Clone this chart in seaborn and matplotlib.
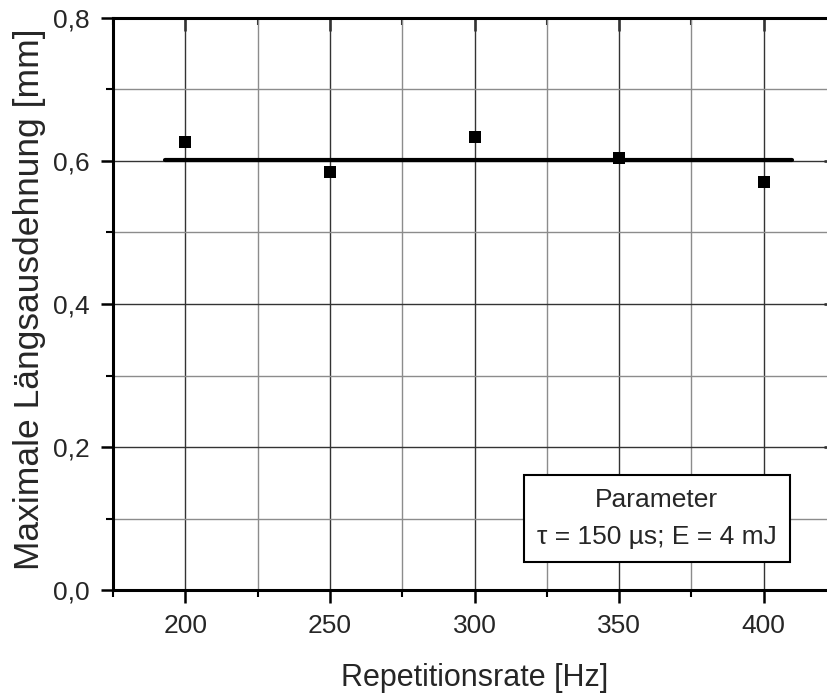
import matplotlib
matplotlib.use("Agg")
import matplotlib.pyplot as plt
from matplotlib.ticker import MultipleLocator, FuncFormatter
import seaborn as sns
import pandas as pd

# Measured maximum longitudinal extension per repetition rate
rate_hz = [200, 250, 300, 350, 400]
extension_mm = [0.626, 0.585, 0.634, 0.604, 0.571]

# Horizontal fit line (mean level)
fit_x = [193, 409.7]
fit_y = [0.602, 0.602]

x_ticks = [200, 250, 300, 350, 400]
y_ticks = [0.0, 0.2, 0.4, 0.6, 0.8]

sns.set_theme(style="white")
plt.rcParams["font.family"] = ["Liberation Sans", "DejaVu Sans"]

fig = plt.figure(figsize=(8.27, 6.95), dpi=100)
ax = fig.add_axes([113 / 827, 105 / 695, 723 / 827, 572 / 695])

df = pd.DataFrame({"rate": rate_hz, "ext": extension_mm})
fit = pd.DataFrame({"x": fit_x, "y": fit_y})

sns.lineplot(data=fit, x="x", y="y", ax=ax, color="black", linewidth=3.0,
             zorder=3, legend=False)
sns.scatterplot(data=df, x="rate", y="ext", ax=ax, marker="s", s=75,
                color="black", edgecolor="black", linewidth=0, zorder=4,
                legend=False)

ax.set_xlim(175, 425)
ax.set_ylim(0.0, 0.8)
ax.set_xticks(x_ticks)
ax.set_yticks(y_ticks)
ax.xaxis.set_minor_locator(MultipleLocator(25))
ax.yaxis.set_minor_locator(MultipleLocator(0.1))
ax.yaxis.set_major_formatter(FuncFormatter(lambda v, p: f"{v:.1f}".replace(".", ",")))

ax.grid(which="major", color="#333333", linewidth=1.0)
ax.grid(which="minor", color="#8c8c8c", linewidth=1.0)
ax.set_axisbelow(True)

for sp in ax.spines.values():
    sp.set_visible(True)
    sp.set_color("black")
    sp.set_linewidth(2.2)

ax.tick_params(axis="both", which="major", direction="out", length=9, width=1.8,
               color="black", labelsize=19, pad=8)
ax.tick_params(axis="both", which="minor", direction="out", length=5, width=1.5,
               color="black")
ax.tick_params(bottom=True, left=True, which="both")

# Inward ticks on the top and right frame
top = ax.secondary_xaxis("top")
top.set_xticks(x_ticks)
top.xaxis.set_minor_locator(MultipleLocator(25))
top.tick_params(which="major", direction="in", length=9, width=1.8, labeltop=False)
top.tick_params(which="minor", direction="in", length=5, width=1.5)
top.spines["top"].set_visible(False)
right = ax.secondary_yaxis("right")
right.set_yticks(y_ticks)
right.yaxis.set_minor_locator(MultipleLocator(0.1))
right.tick_params(which="major", direction="in", length=9, width=1.8, labelright=False)
right.tick_params(which="minor", direction="in", length=5, width=1.5)
right.spines["right"].set_visible(False)

ax.set_xlabel("Repetitionsrate [Hz]", fontsize=22, labelpad=18)
ax.set_ylabel("Maximale Längsausdehnung [mm]", fontsize=25.5)
ax.yaxis.set_label_coords(-0.093, 0.508)

ax.text(363, 0.1, "Parameter\n\u03c4 = 150 µs; E = 4 mJ",
        transform=ax.transData, ha="center", va="center", fontsize=19,
        linespacing=1.7,
        bbox=dict(boxstyle="square,pad=0.5", facecolor="white",
                  edgecolor="black", linewidth=1.5),
        zorder=5)

fig.savefig("out.png", dpi=100)
